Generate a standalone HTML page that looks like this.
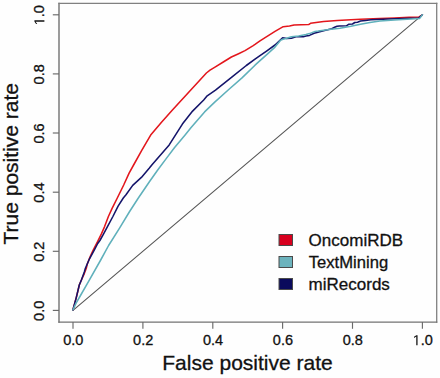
<!DOCTYPE html>
<html><head><meta charset="utf-8"><style>
html,body{margin:0;padding:0;background:#fefefe;}
svg{display:block;font-family:"Liberation Sans",sans-serif;}
</style></head><body>
<svg width="440" height="378" viewBox="0 0 440 378">
<rect x="0" y="0" width="440" height="378" fill="#fefefe"/>
<g fill="none" stroke-linejoin="round" stroke-linecap="round">
<line x1="73.0" y1="310.4" x2="422.4" y2="14.8" stroke="#555" stroke-width="1.1"/>
<polyline points="72.9,310.0 76.4,297.1 79.3,285.0 81.4,280.0 84.3,273.6 86.4,267.9 87.3,264.0 90.2,256.5 93.2,250.0 97.7,241.3 101.4,233.9 104.6,226.6 108.4,216.5 112.1,208.4 117.3,198.0 123.7,185.0 129.1,173.1 133.6,165.0 141.6,150.7 151.1,134.4 161.3,122.6 172.2,110.3 206.4,73.0 210.0,70.2 215.0,67.2 224.1,61.5 231.4,57.0 238.6,53.7 245.0,50.6 253.2,45.6 255.0,44.4 260.0,40.8 275.0,31.4 283.2,26.7 289.5,26.0 294.1,25.0 308.6,24.6 310.5,23.3 323.6,21.6 337.3,20.6 350.9,19.8 360.5,19.3 379.8,18.6 394.5,18.0 409.3,17.2 419.0,16.9 422.4,14.8" stroke="#e3161c" stroke-width="1.55"/>
<polyline points="72.9,310.0 76.4,297.1 79.3,285.0 81.4,280.0 84.3,272.0 85.4,268.3 89.5,258.8 94.5,249.6 97.7,243.5 99.9,240.5 103.6,233.9 107.6,226.4 112.9,216.5 118.1,206.1 123.3,198.0 126.0,194.8 132.7,185.4 141.4,177.4 149.4,168.0 151.8,165.0 169.2,144.9 182.4,124.1 192.6,111.1 203.7,100.0 207.2,95.8 215.5,90.2 231.8,77.2 246.3,65.5 255.0,59.2 260.0,55.7 266.2,51.3 275.0,45.0 282.6,37.8 286.8,38.6 291.4,38.2 295.9,36.8 303.2,36.8 305.9,35.9 309.5,35.4 314.1,33.2 323.6,30.7 331.8,28.8 334.6,27.3 337.0,26.3 339.5,25.9 346.4,25.8 348.6,24.3 352.5,24.0 354.8,22.5 357.5,22.2 360.5,21.1 365.5,20.4 370.9,19.8 394.5,18.8 419.0,17.9 422.4,14.8" stroke="#14146a" stroke-width="1.55"/>
<polyline points="72.9,310.0 76.1,303.1 80.2,296.0 88.6,281.4 100.7,260.0 108.6,245.5 119.7,227.9 129.3,212.0 138.0,198.5 149.4,181.8 157.7,170.0 166.2,158.6 174.6,147.5 185.1,135.0 190.9,127.8 197.2,120.4 204.6,111.9 215.0,101.9 228.2,90.0 242.0,77.9 255.0,65.2 260.0,60.7 266.2,55.1 275.0,47.1 280.4,40.4 282.3,39.5 285.9,38.6 291.4,36.8 298.6,35.9 305.9,34.5 309.5,33.6 315.0,31.4 318.2,31.1 329.1,29.6 340.0,28.2 350.9,26.2 360.5,24.2 370.0,22.4 379.8,21.0 394.5,19.9 419.5,18.6 422.4,14.8" stroke="#5fb0bb" stroke-width="1.55"/>
</g>
<g stroke-width="1.3" stroke-linecap="square">
<line x1="59.0" y1="3.3" x2="59.0" y2="322.1" stroke="#666"/>
<line x1="59.0" y1="3.3" x2="436.7" y2="3.3" stroke="#808080"/>
<line x1="436.7" y1="3.3" x2="436.7" y2="322.1" stroke="#808080"/>
<line x1="59.0" y1="322.1" x2="436.7" y2="322.1" stroke="#727272"/>
</g>
<g stroke="#6a6a6a" stroke-width="1.15">
<line x1="73.0" y1="322.1" x2="73.0" y2="328.8" /><line x1="59.0" y1="310.4" x2="52.8" y2="310.4" /><line x1="142.9" y1="322.1" x2="142.9" y2="328.8" /><line x1="59.0" y1="251.3" x2="52.8" y2="251.3" /><line x1="212.8" y1="322.1" x2="212.8" y2="328.8" /><line x1="59.0" y1="192.2" x2="52.8" y2="192.2" /><line x1="282.6" y1="322.1" x2="282.6" y2="328.8" /><line x1="59.0" y1="133.0" x2="52.8" y2="133.0" /><line x1="352.5" y1="322.1" x2="352.5" y2="328.8" /><line x1="59.0" y1="73.9" x2="52.8" y2="73.9" /><line x1="422.4" y1="322.1" x2="422.4" y2="328.8" /><line x1="59.0" y1="14.8" x2="52.8" y2="14.8" />
</g>
<g font-size="14.5" fill="#111" stroke="#111" stroke-width="0.3">
<g transform="translate(73.30,345.2)"><text x="0" y="0" text-anchor="middle">0.0</text></g><g transform="translate(143.18,345.2)"><text x="0" y="0" text-anchor="middle">0.2</text></g><g transform="translate(213.06,345.2)"><text x="0" y="0" text-anchor="middle">0.4</text></g><g transform="translate(282.94,345.2)"><text x="0" y="0" text-anchor="middle">0.6</text></g><g transform="translate(352.82,345.2)"><text x="0" y="0" text-anchor="middle">0.8</text></g><g transform="translate(422.70,345.2)"><path d="M515 0V1237L197 1010V1180L530 1409H696V0Z" transform="translate(-10.08,0) scale(0.00708,-0.00708)"/><text x="-2.02" y="0">.0</text></g>
<g transform="translate(44.4,310.80) rotate(-90)"><text x="0" y="0" text-anchor="middle">0.0</text></g><g transform="translate(44.4,251.68) rotate(-90)"><text x="0" y="0" text-anchor="middle">0.2</text></g><g transform="translate(44.4,192.56) rotate(-90)"><text x="0" y="0" text-anchor="middle">0.4</text></g><g transform="translate(44.4,133.44) rotate(-90)"><text x="0" y="0" text-anchor="middle">0.6</text></g><g transform="translate(44.4,74.32) rotate(-90)"><text x="0" y="0" text-anchor="middle">0.8</text></g><g transform="translate(44.4,15.20) rotate(-90)"><path d="M515 0V1237L197 1010V1180L530 1409H696V0Z" transform="translate(-10.08,0) scale(0.00708,-0.00708)"/><text x="-2.02" y="0">.0</text></g>
</g>
<text x="247.5" y="370" text-anchor="middle" font-size="21" fill="#111" stroke="#111" stroke-width="0.3">False positive rate</text>
<text transform="translate(17.8,163.8) rotate(-90)" text-anchor="middle" font-size="21" fill="#111" stroke="#111" stroke-width="0.3">True positive rate</text>
<g stroke="#4a4a4a" stroke-width="1">
<rect x="279" y="234.5" width="13.5" height="11" fill="#d8001e"/>
<rect x="279" y="256.5" width="13.5" height="11" fill="#6cb3bd"/>
<rect x="279" y="278.5" width="13.5" height="11" fill="#0a0a5c"/>
</g>
<g font-size="17" fill="#111" stroke="#111" stroke-width="0.3">
<text x="308.6" y="246.3">OncomiRDB</text>
<text x="308.8" y="267.8" font-size="16.6">TextMining</text>
<text x="308.6" y="290.3">miRecords</text>
</g>
</svg>
</body></html>
